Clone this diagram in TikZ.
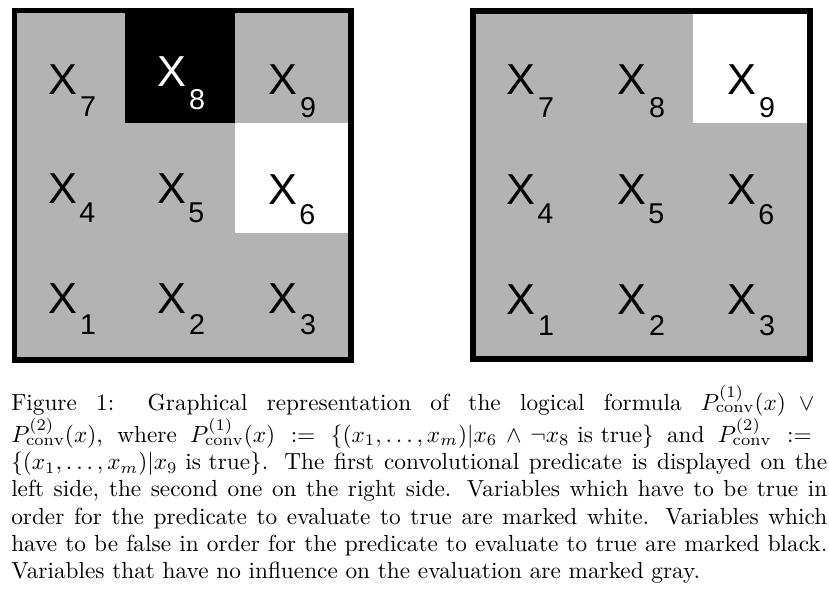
\documentclass[tikz,border=0pt]{standalone}
\usepackage{amsmath}
\usepackage{amssymb}
\usepackage{fontspec}
\newfontfamily\gridfont{Liberation Sans}
\usepackage{tikz}
\usetikzlibrary{positioning}

\definecolor{cellgray}{RGB}{179,179,179}
\tikzset{
  varname/.style={font=\gridfont\fontsize{32.5}{32.5}\selectfont, inner sep=0pt},
  varidx/.style={font=\gridfont\fontsize{21.5}{21.5}\selectfont, inner sep=0pt},
  gridframe/.style={line width=4.3pt},
  captiontext/.style={inner sep=0pt},
}

\begin{document}
\begin{tikzpicture}[x=0.75pt,y=0.75pt,yscale=-1,xscale=1]
\useasboundingbox (0,0) rectangle (829,596);

%Shape: Rectangle [left grid]
\fill[cellgray] (14.5,10.5) rectangle (351,360);
\fill[black] (125,13) rectangle (235,123);
\fill[white] (235,123) rectangle (349,233);
\draw[gridframe] (14.5,10.5) rectangle (351,360);

%Shape: Rectangle [right grid]
\fill[cellgray] (473,11) rectangle (810,359);
\fill[white] (693,14) rectangle (808,123);
\draw[gridframe] (473,11) rectangle (810,359);

% Text Node
\node[varname] (l7) at (62.5,79.5) {X};
\node[varidx, below right=1.5pt and 2pt of l7] (l7i) {7};
% Text Node
\node[varname, white] (l8) at (171.5,72) {X};
\node[varidx, white, below right=1.5pt and 2pt of l8] (l8i) {8};
% Text Node
\node[varname] (l9) at (282.5,80) {X};
\node[varidx, below right=1.5pt and 2pt of l9] (l9i) {9};
% Text Node
\node[varname] (l4) at (62.5,189) {X};
\node[varidx, below right=-1pt and 1.5pt of l4] (l4i) {4};
% Text Node
\node[varname] (l5) at (171.5,189) {X};
\node[varidx, below right=-1pt and 1.5pt of l5] (l5i) {5};
% Text Node
\node[varname] (l6) at (282.5,190) {X};
\node[varidx, below right=-1pt and 1.5pt of l6] (l6i) {6};
% Text Node
\node[varname] (l1) at (62.5,299) {X};
\node[varidx, below right=0pt and 2pt of l1] (l1i) {1};
% Text Node
\node[varname] (l2) at (171.5,299) {X};
\node[varidx, below right=0pt and 2pt of l2] (l2i) {2};
% Text Node
\node[varname] (l3) at (282.5,299) {X};
\node[varidx, below right=0pt and 2pt of l3] (l3i) {3};

% Text Node
\node[varname] (r7) at (520.5,80) {X};
\node[varidx, below right=1.5pt and 2pt of r7] (r7i) {7};
% Text Node
\node[varname] (r8) at (631.5,80) {X};
\node[varidx, below right=1.5pt and 2pt of r8] (r8i) {8};
% Text Node
\node[varname] (r9) at (741.5,80) {X};
\node[varidx, below right=1.5pt and 2pt of r9] (r9i) {9};
% Text Node
\node[varname] (r4) at (520.5,190) {X};
\node[varidx, below right=-1pt and 1.5pt of r4] (r4i) {4};
% Text Node
\node[varname] (r5) at (631.5,190) {X};
\node[varidx, below right=-1pt and 1.5pt of r5] (r5i) {5};
% Text Node
\node[varname] (r6) at (741.5,190) {X};
\node[varidx, below right=-1pt and 1.5pt of r6] (r6i) {6};
% Text Node
\node[varname] (r1) at (520.5,300) {X};
\node[varidx, below right=0pt and 2pt of r1] (r1i) {1};
% Text Node
\node[varname] (r2) at (631.5,300) {X};
\node[varidx, below right=0pt and 2pt of r2] (r2i) {2};
% Text Node
\node[varname] (r3) at (741.5,300) {X};
\node[varidx, below right=0pt and 2pt of r3] (r3i) {3};

% Text Node
\node[captiontext, anchor=base west] (caption) at (11,410) {\scalebox{1.745}{\parbox[t]{350.7pt}{\fontsize{10}{11.69}\selectfont Figure 1: Graphical representation of the logical formula $P^{(1)}_{\mathrm{conv}}(x) \vee{}$\linebreak $P^{(2)}_{\mathrm{conv}}(x)$, where $P^{(1)}_{\mathrm{conv}}(x) := \{(x_1,\ldots,x_m)|x_6 \wedge \neg x_8 \text{ is true}\}$ and $P^{(2)}_{\mathrm{conv}} :={}$\linebreak $\{(x_1,\ldots,x_m)|x_9 \text{ is true}\}$. The first convolutional predicate is displayed on the\linebreak left side, the second one on the right side. Variables which have to be true in\linebreak order for the predicate to evaluate to true are marked white. Variables which\linebreak have to be false in order for the predicate to evaluate to true are marked black.\linebreak Variables that have no influence on the evaluation are marked gray.}}};

\end{tikzpicture}
\end{document}
